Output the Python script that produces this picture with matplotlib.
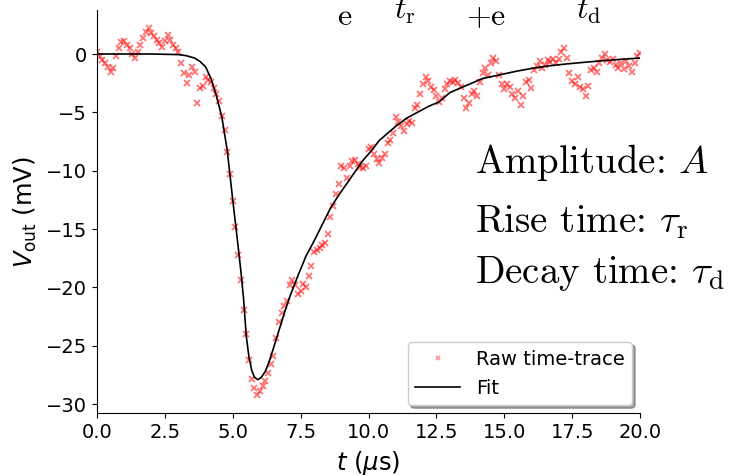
import numpy as np
import matplotlib
matplotlib.use("Agg")
import matplotlib.pyplot as plt

# ---- raw time-trace (t in us, V in mV), step 0.1 us ----
t_raw = np.round(np.arange(0, 201) * 0.1, 1)
v_raw = [
    0.2, -0.2, -0.5, -0.8, -1.1, -1.5, -1.2, -0.2, 0.5, 1.0,
    1.1, 0.8, 0.5, 0.0, -0.3, 0.2, 0.8, 1.4, 1.9, 2.2,
    1.8, 1.5, 1.2, 0.9, 0.6, 1.1, 1.6, 1.2, 0.8, 0.5,
    0.2, -0.8, -1.6, -2.5, -1.8, -1.1, -1.5, -4.2, -2.9, -2.7,
    -2.0, -2.2, -2.4, -2.9, -3.4, -4.0, -5.3, -6.5, -8.4, -10.3,
    -12.6, -14.8, -17.2, -19.4, -21.9, -24.0, -26.2, -27.8, -28.6, -29.2,
    -28.9, -28.4, -28.0, -27.3, -26.6, -25.9, -24.3, -23.0, -22.2, -21.6,
    -21.2, -19.8, -19.4, -19.8, -20.6, -20.3, -19.7, -20.0, -19.0, -18.2,
    -17.0, -16.8, -16.6, -16.4, -16.2, -15.4, -14.0, -13.0, -12.0, -11.1,
    -9.6, -9.8, -10.6, -9.6, -9.2, -9.1, -9.4, -9.7, -9.8, -9.6,
    -8.1, -8.0, -8.6, -9.0, -9.3, -8.9, -8.6, -7.6, -7.4, -6.8,
    -5.4, -5.8, -6.2, -6.6, -6.0, -5.7, -5.9, -4.6, -4.4, -3.4,
    -2.6, -2.0, -2.3, -2.8, -3.1, -3.6, -4.1, -3.8, -3.0, -2.6,
    -2.3, -2.4, -2.2, -2.5, -2.8, -3.8, -4.6, -4.2, -3.4, -3.2,
    -3.6, -2.4, -1.6, -1.2, -1.8, -0.8, -0.3, -0.6, -1.8, -2.6,
    -3.0, -2.6, -2.8, -3.4, -3.8, -3.2, -4.4, -3.6, -2.4, -2.2,
    -2.9, -1.4, -1.0, -0.6, -1.2, -0.9, -0.5, -0.7, -0.4, -0.8,
    -0.4, 0.2, 0.5, -0.3, -1.6, -2.3, -2.6, -2.0, -2.8, -3.0,
    -3.6, -2.7, -1.4, -1.2, -1.5, -0.8, -0.3, 0.0, -0.5, -0.7,
    -0.4, -0.9, -1.2, -0.8, -1.3, -0.6, -1.0, -1.5, -0.8, -0.2,
    0.1,
]

# ---- fitted curve ----
t_fit = [0.0, 1.0, 2.0, 3.0, 3.3, 3.6, 3.8, 4.0, 4.2, 4.4, 4.6, 4.8, 5.0,
         5.15, 5.3, 5.4, 5.5, 5.6, 5.7, 5.8, 5.93, 6.05, 6.2, 6.35, 6.5,
         6.7, 6.9, 7.1, 7.4, 7.7, 8.0, 8.3, 8.6, 8.9, 9.2, 9.5, 9.8, 10.1,
         10.4, 10.7, 11.0, 11.4, 11.8, 12.2, 12.6, 13.0, 13.6, 14.2, 14.8,
         15.5, 16.1, 16.7, 17.3, 17.9, 18.5, 19.2, 20.0]
v_fit = [0.0, 0.0, 0.0, -0.05, -0.15, -0.35, -0.65, -1.1, -2.1, -3.6, -5.4,
         -8.3, -12.5, -15.5, -18.6, -21.0, -24.2, -26.0, -27.1, -27.7, -27.9,
         -27.7, -27.2, -26.3, -25.2, -23.7, -22.2, -20.8, -19.0, -17.3, -16.0,
         -14.6, -13.2, -12.1, -11.1, -10.1, -9.1, -8.3, -7.4, -6.8, -6.2,
         -5.5, -5.0, -4.5, -4.1, -3.3, -2.7, -2.1, -1.8, -1.45, -1.2, -1.0,
         -0.85, -0.72, -0.6, -0.47, -0.35]

x_ticks = [0.0, 2.5, 5.0, 7.5, 10.0, 12.5, 15.0, 17.5, 20.0]
y_ticks = [0, -5, -10, -15, -20, -25, -30]

fig = plt.figure(figsize=(7.29, 4.76), dpi=100)
ax = fig.add_axes([0.133, 0.132, 0.745, 0.847])

ax.plot(t_raw, v_raw, linestyle="none", marker="x", color="red",
        markersize=4.5, markeredgewidth=1.3, alpha=0.55, label="Raw time-trace")
ax.plot(t_fit, v_fit, color="black", linewidth=1.2, label="Fit")

ax.set_xlim(0, 20)
ax.set_ylim(-30.77, 3.77)
ax.set_xticks(x_ticks)
ax.set_yticks(y_ticks)
ax.tick_params(labelsize=14)
ax.spines["top"].set_visible(False)
ax.spines["right"].set_visible(False)
ax.set_xlabel(r"$t$ ($\mu$s)", fontsize=17.5, labelpad=5)
ax.set_ylabel(r"$V_\mathrm{out}$ (mV)", fontsize=17.5, labelpad=5)

leg = ax.legend(loc="lower right", fontsize=14, shadow=True, framealpha=1,
                borderaxespad=0.4, handlelength=2.3)
leg.legend_handles[0].set_markersize(3.5)
leg.legend_handles[0].set_alpha(0.4)

# parameter text in Computer Modern
txt = dict(family="cmr10", math_fontfamily="cm", fontsize=28, color="black")
fig.text(0.651, 0.6366, r"Amplitude: $A$", **txt)
fig.text(0.651, 0.5126, r"Rise time: $\tau_\mathrm{r}$", **txt)
fig.text(0.651, 0.4055, r"Decay time: $\tau_\mathrm{d}$", **txt)

# bottom of a formula that is cut off at the top of the figure
top = dict(family="cmr10", math_fontfamily="cm", fontsize=23, color="black")
fig.text(0.462, 0.9475, r"e", **top)
fig.text(0.541, 0.962, r"$t_\mathrm{r}$", **top)
fig.text(0.639, 0.9475, r"$+$e", **top)
fig.text(0.790, 0.962, r"$t_\mathrm{d}$", **top)

fig.savefig("out.png", dpi=100)
